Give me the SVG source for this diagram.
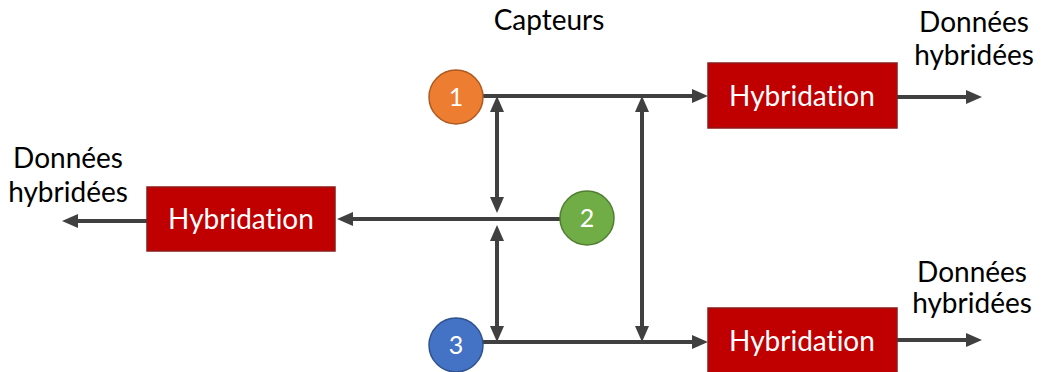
<svg xmlns="http://www.w3.org/2000/svg" width="1041" height="372" viewBox="0 0 1041 372">
<style>
  text { font-variant-ligatures: none; font-feature-settings: "liga" 0, "dlig" 0; }
  .lbl { font-family: Lato, "Open Sans", "Liberation Sans", sans-serif; font-size: 28px; fill: #000; text-anchor: middle; }
  .box { fill: #C00000; stroke: #8C1A1A; stroke-width: 1.5; }
  .boxt { font-family: Lato, "Open Sans", "Liberation Sans", sans-serif; font-size: 28px; fill: #fff; text-anchor: middle; }
  .num { font-family: Lato, "Open Sans", "Liberation Sans", sans-serif; font-size: 25px; fill: #fff; text-anchor: middle; }
  .conn { fill: none; stroke: #404040; stroke-width: 4; }
  .end { marker-end: url(#ah); }
  .both { marker-start: url(#ah); marker-end: url(#ah); }
</style>
<defs>
  <marker id="ah" markerUnits="userSpaceOnUse" markerWidth="16" markerHeight="14" refX="6" refY="7" orient="auto-start-reverse">
    <path d="M0,0 L16,7 L0,14 z" fill="#404040"/>
  </marker>
</defs>
<rect width="1041" height="372" fill="#fff"/>
<g id="connectors">
  <path class="conn end" d="M483,96 H698"/>
  <path class="conn end" d="M897,97 H972"/>
  <path class="conn end" d="M560,219 H347"/>
  <path class="conn end" d="M147,221 H72"/>
  <path class="conn end" d="M483,342 H698"/>
  <path class="conn end" d="M897,340 H972"/>
  <path class="conn both" d="M497,106 V203"/>
  <path class="conn both" d="M497,235 V332"/>
  <path class="conn both" d="M642,106 V332"/>
</g>
<g id="capteurs-label"><text class="lbl" x="549" y="30">Capteurs</text></g>
<g id="capteur1">
  <circle cx="456" cy="97" r="27" fill="#ED7D31" stroke="#AE5A21" stroke-width="1.5"/>
  <text class="num" x="456" y="106">1</text>
</g>
<g id="capteur2">
  <circle cx="587" cy="218" r="27" fill="#70AD47" stroke="#507E32" stroke-width="1.5"/>
  <text class="num" x="587" y="227">2</text>
</g>
<g id="capteur3">
  <circle cx="456" cy="345" r="27" fill="#4472C4" stroke="#2F528F" stroke-width="1.5"/>
  <text class="num" x="456" y="354">3</text>
</g>
<g id="hyb-top">
  <rect class="box" x="708" y="63" width="189" height="65"/>
  <text class="boxt" x="802" y="106">Hybridation</text>
</g>
<g id="hyb-left">
  <rect class="box" x="147" y="187" width="188" height="64"/>
  <text class="boxt" x="241" y="229">Hybridation</text>
</g>
<g id="hyb-bottom">
  <rect class="box" x="708" y="308" width="189" height="66"/>
  <text class="boxt" x="802" y="351">Hybridation</text>
</g>
<g id="out-top">
  <text class="lbl" x="974" y="32">Données</text>
  <text class="lbl" x="974" y="65">hybridées</text>
</g>
<g id="out-left">
  <text class="lbl" x="68" y="168">Données</text>
  <text class="lbl" x="68" y="202">hybridées</text>
</g>
<g id="out-bottom">
  <text class="lbl" x="972" y="282">Données</text>
  <text class="lbl" x="972" y="313">hybridées</text>
</g>
</svg>
